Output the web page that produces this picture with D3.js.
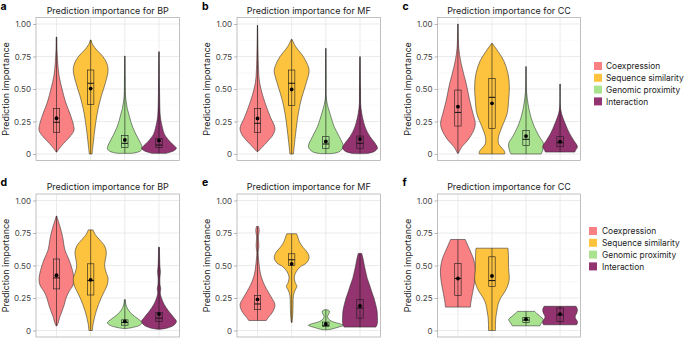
<!DOCTYPE html>
<html>
<head>
<meta charset="utf-8">
<script src="https://cdn.jsdelivr.net/npm/d3@7"></script>
<style>
  body { margin: 0; background: #fff; }
  svg text { font-family: Inter, "Noto Sans", sans-serif; }
</style>
</head>
<body>
<svg id="chart" width="685" height="338"></svg>
<script>
// categories and colours
const categories = ["Coexpression", "Sequence similarity", "Genomic proximity", "Interaction"];
const colors = ["#f98083", "#fdc33f", "#a9e38f", "#93336f"];
const panelLetters = ["a", "b", "c", "d", "e", "f"];
const panelTitles = [
  "Prediction importance for BP", "Prediction importance for MF", "Prediction importance for CC",
  "Prediction importance for BP", "Prediction importance for MF", "Prediction importance for CC"
];
const yTicks = [0, 0.25, 0.5, 0.75, 1];
const yTickLabels = ["0", "0.25", "0.50", "0.75", "1.00"];
const yMinor = [0.125, 0.375, 0.625, 0.875];

// violin profiles: [value, relative width] per category
const violinA = [
  [[0.90,0.02],[0.80,0.03],[0.70,0.07],[0.60,0.15],[0.50,0.32],[0.40,0.52],[0.30,0.8],[0.22,0.98],[0.18,1.0],[0.13,0.75],[0.08,0.4],[0.04,0.15],[0.015,0.02]],
  [[0.877,0.02],[0.84,0.12],[0.80,0.35],[0.75,0.7],[0.70,0.92],[0.65,1.0],[0.60,0.95],[0.55,0.85],[0.50,0.74],[0.45,0.62],[0.40,0.52],[0.35,0.43],[0.30,0.36],[0.25,0.3],[0.20,0.25],[0.15,0.2],[0.10,0.16],[0.05,0.12],[0.0,0.08]],
  [[0.754,0.01],[0.6,0.02],[0.45,0.04],[0.4,0.08],[0.35,0.14],[0.3,0.24],[0.25,0.34],[0.2,0.47],[0.15,0.64],[0.1,0.84],[0.06,0.98],[0.04,1.0],[0.02,0.85],[0.005,0.4]],
  [[0.787,0.01],[0.5,0.03],[0.3,0.07],[0.25,0.12],[0.2,0.2],[0.15,0.32],[0.1,0.6],[0.06,0.9],[0.045,1.0],[0.025,0.85],[0.005,0.4]]
];
const violinB = [
  [[0.99,0.01],[0.8,0.03],[0.65,0.06],[0.55,0.12],[0.45,0.3],[0.35,0.55],[0.28,0.75],[0.2,1.0],[0.15,0.9],[0.1,0.6],[0.05,0.25],[0.018,0.02]],
  [[0.882,0.02],[0.826,0.23],[0.749,0.67],[0.67,0.96],[0.633,1.0],[0.518,0.77],[0.415,0.54],[0.31,0.38],[0.16,0.23],[0.0,0.1]],
  [[0.813,0.01],[0.6,0.02],[0.415,0.04],[0.287,0.29],[0.21,0.48],[0.133,0.77],[0.056,1.0],[0.018,0.77],[0.003,0.3]],
  [[0.749,0.01],[0.5,0.03],[0.35,0.06],[0.21,0.29],[0.133,0.58],[0.082,0.87],[0.044,1.0],[0.018,0.8],[0.003,0.3]]
];
const violinC = [
  [[1.0,0.01],[0.8,0.06],[0.67,0.23],[0.54,0.48],[0.415,0.67],[0.31,0.87],[0.236,1.0],[0.185,0.92],[0.108,0.58],[0.056,0.23],[0.005,0.02]],
  [[0.851,0.02],[0.8,0.29],[0.72,0.67],[0.62,0.92],[0.518,1.0],[0.415,0.96],[0.31,0.87],[0.21,0.58],[0.133,0.38],[0.08,0.38],[0.044,0.58],[0.018,0.73],[0.0,0.73]],
  [[0.672,0.01],[0.467,0.04],[0.31,0.23],[0.21,0.48],[0.133,0.77],[0.082,1.0],[0.03,0.96],[0.0,0.87]],
  [[0.538,0.01],[0.338,0.04],[0.236,0.29],[0.16,0.54],[0.108,0.77],[0.056,1.0],[0.03,0.9],[0.015,0.85]]
];
const violinD = [
  [[0.88,0.02],[0.85,0.08],[0.80,0.2],[0.75,0.3],[0.70,0.38],[0.62,0.48],[0.55,0.7],[0.48,0.88],[0.40,1.0],[0.35,0.95],[0.30,0.72],[0.25,0.55],[0.20,0.45],[0.15,0.32],[0.10,0.18],[0.06,0.1],[0.035,0.02]],
  [[0.774,0.14],[0.74,0.25],[0.70,0.5],[0.65,0.8],[0.60,0.9],[0.55,0.85],[0.50,0.8],[0.45,0.88],[0.40,1.0],[0.35,0.95],[0.30,0.78],[0.25,0.6],[0.20,0.45],[0.15,0.32],[0.10,0.22],[0.05,0.14],[0.0,0.1]],
  [[0.237,0.03],[0.2,0.06],[0.17,0.15],[0.14,0.3],[0.11,0.55],[0.08,0.85],[0.06,1.0],[0.04,0.85],[0.025,0.5],[0.015,0.1]],
  [[0.64,0.03],[0.6,0.03],[0.5,0.05],[0.45,0.08],[0.4,0.05],[0.35,0.06],[0.32,0.1],[0.29,0.07],[0.25,0.14],[0.2,0.3],[0.15,0.55],[0.1,0.85],[0.07,1.0],[0.04,0.85],[0.02,0.5],[0.01,0.1]]
];
const violinE = [
  [[0.80,0.06],[0.77,0.1],[0.72,0.05],[0.65,0.08],[0.6,0.04],[0.5,0.1],[0.45,0.15],[0.4,0.25],[0.35,0.4],[0.3,0.6],[0.25,0.82],[0.2,1.0],[0.15,0.9],[0.1,0.62],[0.077,0.5]],
  [[0.744,0.28],[0.72,0.35],[0.68,0.45],[0.64,0.65],[0.6,0.9],[0.56,1.0],[0.52,0.85],[0.49,0.5],[0.45,0.25],[0.41,0.15],[0.37,0.2],[0.34,0.3],[0.31,0.2],[0.27,0.1],[0.2,0.08],[0.12,0.06],[0.062,0.02]],
  [[0.16,0.05],[0.15,0.2],[0.13,0.18],[0.11,0.1],[0.09,0.15],[0.07,0.35],[0.05,0.85],[0.04,1.0],[0.025,0.7],[0.01,0.3],[0.005,0.05]],
  [[0.593,0.1],[0.55,0.18],[0.5,0.25],[0.45,0.33],[0.4,0.42],[0.35,0.55],[0.3,0.67],[0.25,0.8],[0.2,0.9],[0.15,0.98],[0.1,1.0],[0.06,1.0],[0.035,0.95],[0.026,0.9]]
];
const violinF = [
  [[0.70,0.42],[0.66,0.55],[0.6,0.75],[0.55,0.9],[0.48,1.0],[0.42,1.0],[0.35,0.93],[0.28,0.83],[0.22,0.75],[0.18,0.72]],
  [[0.633,0.92],[0.6,0.94],[0.55,0.95],[0.5,0.95],[0.45,0.97],[0.4,1.0],[0.35,0.92],[0.3,0.75],[0.25,0.5],[0.2,0.35],[0.15,0.28],[0.1,0.22],[0.05,0.2],[0.0,0.2]],
  [[0.147,0.5],[0.13,0.62],[0.11,0.8],[0.085,1.0],[0.07,0.95],[0.05,0.85],[0.036,0.8]],
  [[0.186,0.92],[0.16,1.0],[0.13,0.95],[0.11,0.87],[0.09,0.9],[0.07,1.0],[0.05,0.98],[0.044,0.95]]
];

// box stats: [q1, median, q3, mean]
const boxA = [[0.167,0.244,0.35,0.275],[0.38,0.544,0.646,0.503],[0.049,0.082,0.141,0.108],[0.051,0.069,0.12,0.103]];
const boxB = [[0.164,0.236,0.351,0.274],[0.372,0.544,0.646,0.497],[0.044,0.077,0.133,0.097],[0.044,0.082,0.138,0.115]];
const boxC = [[0.215,0.32,0.492,0.364],[0.197,0.436,0.582,0.39],[0.064,0.113,0.18,0.138],[0.056,0.087,0.133,0.095]];
const boxD = [[0.32,0.405,0.55,0.425],[0.273,0.384,0.513,0.39],[0.041,0.062,0.082,0.07],[0.07,0.095,0.139,0.126]];
const boxE = [[0.16,0.204,0.268,0.24],[0.5,0.544,0.59,0.513],[0.03,0.04,0.065,0.05],[0.095,0.173,0.237,0.19]];
const boxF = [[0.27,0.40,0.515,0.40],[0.34,0.384,0.567,0.42],[0.062,0.08,0.1,0.087],[0.07,0.12,0.173,0.126]];

const violins = [violinA, violinB, violinC, violinD, violinE, violinF];
const boxes = [boxA, boxB, boxC, boxD, boxE, boxF];

// layout
const svg = d3.select("#chart");
svg.append("rect").attr("width", 685).attr("height", 338).attr("fill", "#fff");

const colX = [[36, 179.5], [237, 380.5], [437.5, 580.5]];
const rowZero = [154, 330.5]; // pixel of value 0
const unit = 130;
const legendPos = [{ x: 594, y: 66, tx: 606 }, { x: 589, y: 231, tx: 602 }];

const color = d3.scaleOrdinal().domain(categories).range(colors);

panelLetters.forEach((letter, i) => {
  const row = Math.floor(i / 3), col = i % 3;
  const [left, right] = colX[col];
  const y0 = rowZero[row];
  const y = d3.scaleLinear().domain([-0.05, 1.05]).range([y0 + 0.05 * unit, y0 - 1.05 * unit]);
  const x = d3.scalePoint().domain(categories).range([left, right]).padding(0.6);
  const halfMax = x.step() * 0.51;
  const top = y(1.05), bottom = y(-0.05);

  const g = svg.append("g");

  // grid
  g.selectAll(".minor").data(yMinor).enter().append("line")
    .attr("x1", left).attr("x2", right)
    .attr("y1", d => y(d)).attr("y2", d => y(d))
    .attr("stroke", "#f2f2f2").attr("stroke-width", 0.5);
  g.selectAll(".major").data(yTicks).enter().append("line")
    .attr("x1", left).attr("x2", right)
    .attr("y1", d => y(d)).attr("y2", d => y(d))
    .attr("stroke", "#e6e6e6").attr("stroke-width", 0.8);
  g.selectAll(".vgrid").data(categories).enter().append("line")
    .attr("x1", d => x(d)).attr("x2", d => x(d))
    .attr("y1", top).attr("y2", bottom)
    .attr("stroke", "#e6e6e6").attr("stroke-width", 0.8);

  // violins
  violins[i].forEach((prof, k) => {
    const cx = x(categories[k]);
    const area = d3.area()
      .y(d => y(d[0]))
      .x0(d => cx - d[1] * halfMax)
      .x1(d => cx + d[1] * halfMax)
      .curve(d3.curveCatmullRom);
    g.append("path").datum(prof)
      .attr("d", area)
      .attr("fill", color(categories[k]))
      .attr("stroke", "#2a2a2a").attr("stroke-width", 0.55);

    const ext = d3.extent(prof, d => d[0]);
    const b = boxes[i][k];
    g.append("line")
      .attr("x1", cx).attr("x2", cx)
      .attr("y1", y(ext[0])).attr("y2", y(ext[1]))
      .attr("stroke", "#1a1a1a").attr("stroke-width", 0.6);
    g.append("rect")
      .attr("x", cx - 3.2).attr("width", 6.4)
      .attr("y", y(b[2])).attr("height", y(b[0]) - y(b[2]))
      .attr("fill", "none").attr("stroke", "#1a1a1a").attr("stroke-width", 0.6);
    g.append("line")
      .attr("x1", cx - 3.2).attr("x2", cx + 3.2)
      .attr("y1", y(b[1])).attr("y2", y(b[1]))
      .attr("stroke", "#111").attr("stroke-width", 1);
    g.append("circle")
      .attr("cx", cx).attr("cy", y(b[3])).attr("r", 1.9)
      .attr("fill", "#000");
  });

  // panel border
  g.append("rect")
    .attr("x", left).attr("y", top)
    .attr("width", right - left).attr("height", bottom - top)
    .attr("fill", "none").attr("stroke", "#a6a6a6").attr("stroke-width", 0.7);

  // y axis
  const axis = g.append("g")
    .attr("transform", `translate(${left},0)`)
    .call(d3.axisLeft(y).tickValues(yTicks).tickSize(3).tickPadding(2)
      .tickFormat((d, j) => yTickLabels[j]));
  axis.select(".domain").remove();
  axis.selectAll("line").attr("stroke", "#888").attr("stroke-width", 0.6);
  axis.selectAll("text").attr("fill", "#444").style("font-size", "8px")
    .style("font-family", "Inter, 'Noto Sans', sans-serif");

  g.append("text")
    .attr("transform", `translate(${left - 27},${(top + bottom) / 2}) rotate(-90)`)
    .attr("text-anchor", "middle")
    .style("font-size", "9px").attr("fill", "#222")
    .text("Prediction importance");

  // title and letter
  g.append("text")
    .attr("x", (left + right) / 2).attr("y", top - 4)
    .attr("text-anchor", "middle")
    .style("font-size", "9px").attr("fill", "#222")
    .text(panelTitles[i]);
  g.append("text")
    .attr("x", col === 0 ? 0.5 : left - 35).attr("y", top - 8)
    .style("font-size", "10.5px").style("font-weight", "700").attr("fill", "#000")
    .text(letter);
});

// legends
legendPos.forEach(lp => {
  const lg = svg.append("g");
  categories.forEach((c, k) => {
    lg.append("rect")
      .attr("x", lp.x).attr("y", lp.y + k * 11.8 - 4)
      .attr("width", 8).attr("height", 8)
      .attr("fill", color(c));
    lg.append("text")
      .attr("x", lp.tx).attr("y", lp.y + k * 11.8 + 3.2)
      .style("font-size", "8.4px").attr("fill", "#222")
      .text(c);
  });
});
</script>
</body>
</html>
